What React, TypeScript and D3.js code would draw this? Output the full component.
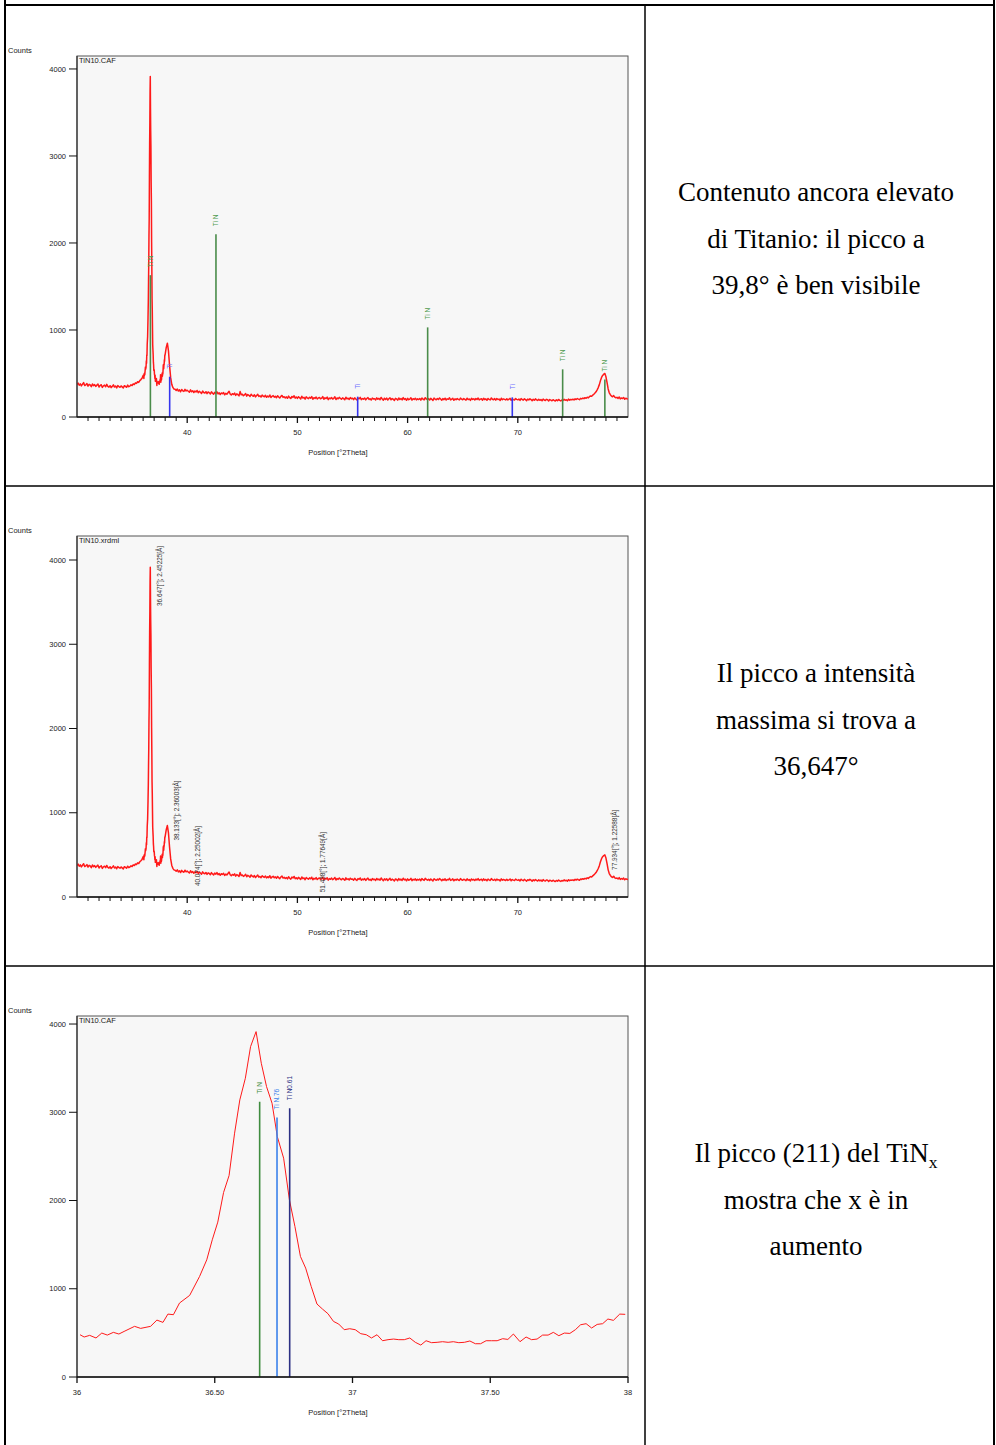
import React from 'react';
import * as d3 from 'd3';

const W = 996;
const H = 1445;

// XRD scan of TiN10, counts per 0.1 °2θ step, low-angle part (30.0 – 35.9)
const SCAN_STEP = 0.1;
const SCAN_LOW_START = 30.0;
const SCAN_LOW: number[] = [
  372, 390, 365, 381, 358, 377, 395, 362, 370, 384,
  355, 376, 368, 349, 380, 361, 372, 352, 366, 378,
  345, 362, 371, 340, 358, 366, 348, 375, 352, 343,
  360, 338, 352, 369, 344, 356, 335, 361, 350, 342,
  357, 346, 333, 360, 351, 341, 366, 348, 356, 370,
  362, 381, 373, 392, 386, 405, 398, 418, 430, 446,
];

// High-angle part of the same scan (38.1 – 80.0)
const SCAN_HIGH_START = 38.1;
const SCAN_HIGH: number[] = [
  800, 848, 760, 590, 452, 375, 340, 322, 318,
  305, 322, 298, 312, 290, 316, 301, 294, 318, 299,
  308, 296, 285, 312, 290, 302, 281, 298, 288, 305,
  279, 295, 284, 270, 298, 282, 276, 291, 268, 287,
  280, 265, 289, 274, 262, 283, 271, 290, 266, 278,
  258, 276, 268, 281, 255, 272, 262, 279, 296, 265,
  252, 268, 259, 274, 248, 266, 257, 243, 292, 256,
  261, 245, 254, 270, 240, 258, 249, 236, 262, 247,
  238, 255, 231, 247, 260, 236, 244, 229, 252, 240,
  233, 249, 226, 241, 230, 253, 224, 238, 246, 228,
  239, 222, 244, 230, 218, 237, 248, 225, 233, 219,
  231, 215, 240, 223, 212, 236, 226, 244, 217, 229,
  214, 233, 221, 208, 238, 218, 226, 205, 231, 220,
  211, 227, 216, 235, 204, 222, 213, 230, 207, 219,
  225, 209, 216, 234, 203, 221, 212, 228, 200, 218,
  210, 224, 206, 215, 232, 201, 219, 209, 226, 213,
  204, 220, 211, 198, 227, 208, 216, 202, 223, 210,
  215, 200, 221, 207, 196, 218, 209, 226, 199, 212,
  205, 219, 197, 213, 224, 201, 210, 195, 218, 206,
  211, 196, 220, 204, 214, 199, 225, 207, 193, 216,
  202, 217, 195, 209, 221, 198, 212, 204, 190, 214,
  208, 194, 218, 201, 212, 197, 223, 203, 211, 192,
  215, 199, 206, 221, 194, 210, 202, 216, 196, 209,
  201, 213, 193, 218, 205, 197, 222, 208, 199, 211,
  196, 214, 203, 190, 217, 206, 198, 212, 201, 219,
  207, 193, 211, 200, 216, 195, 209, 203, 221, 197,
  204, 215, 192, 208, 199, 213, 202, 196, 218, 205,
  198, 211, 203, 194, 216, 200, 207, 191, 214, 202,
  209, 195, 212, 201, 218, 197, 205, 210, 193, 215,
  200, 208, 192, 213, 203, 196, 219, 204, 198, 211,
  194, 212, 201, 206, 190, 215, 199, 208, 202, 196,
  210, 197, 204, 214, 192, 207, 200, 195, 212, 203,
  198, 206, 191, 211, 201, 194, 209, 199, 188, 205,
  196, 210, 200, 187, 204, 193, 208, 197, 190, 203,
  192, 201, 186, 206, 195, 189, 203, 198, 185, 200,
  194, 186, 199, 190, 183, 197, 188, 202, 191, 185,
  196, 189, 203, 192, 199, 187, 205, 194, 201, 198,
  204, 196, 209, 201, 212, 205, 199, 214, 208, 217,
  211, 222, 215, 228, 220, 234, 242, 238, 251, 262,
  275, 290, 312, 338, 372, 418, 455, 478, 492, 500,
  462, 395, 322, 278, 256, 240, 232, 246, 228, 221,
  226, 214, 230, 208, 219, 212, 225, 204, 216, 210,
  207,
];

// Fine scan around the TiN (111) reflection, [°2θ, counts]
const ZOOM_SCAN: [number, number][] = [
  [36.011, 479], [36.026, 453], [36.046, 472], [36.069, 442], [36.09, 498],
  [36.11, 475], [36.132, 506], [36.152, 487], [36.174, 521], [36.209, 574],
  [36.231, 551], [36.267, 574], [36.29, 645], [36.312, 619], [36.33, 713],
  [36.35, 706], [36.372, 838], [36.409, 925], [36.445, 1140], [36.471, 1328],
  [36.491, 1555], [36.511, 1755], [36.532, 2091], [36.552, 2283], [36.572, 2763],
  [36.591, 3140], [36.611, 3385], [36.63, 3744], [36.65, 3914], [36.669, 3555],
  [36.688, 3291], [36.708, 3102], [36.727, 2725], [36.75, 2480], [36.771, 2008],
  [36.791, 1706], [36.811, 1366], [36.83, 1234], [36.85, 1027], [36.871, 827],
  [36.891, 770], [36.911, 717], [36.931, 630], [36.95, 600], [36.97, 536],
  [36.99, 547], [37.01, 536], [37.03, 491], [37.05, 479], [37.069, 442],
  [37.089, 479], [37.109, 411], [37.129, 423], [37.149, 430], [37.168, 423],
  [37.188, 423], [37.208, 442], [37.228, 393], [37.248, 362], [37.267, 411],
  [37.287, 389], [37.307, 393], [37.327, 400], [37.347, 393], [37.366, 400],
  [37.386, 389], [37.406, 393], [37.426, 408], [37.446, 377], [37.465, 377],
  [37.485, 411], [37.505, 411], [37.525, 411], [37.545, 434], [37.564, 426],
  [37.584, 487], [37.608, 400], [37.63, 453], [37.65, 423], [37.67, 430],
  [37.69, 475], [37.71, 475], [37.729, 506], [37.749, 468], [37.769, 498],
  [37.789, 494], [37.809, 536], [37.828, 592], [37.848, 604], [37.868, 555],
  [37.888, 596], [37.908, 604], [37.927, 657], [37.947, 642], [37.97, 713],
  [37.99, 710],
];

// Reference patterns (stick positions and heights)
const TIN_ANGLES = [36.66, 42.61, 61.82, 74.07, 77.9];
const TIN_HEIGHTS = [1630, 2100, 1030, 548, 430];
const TI_ANGLES = [38.41, 55.47, 69.5];
const TI_HEIGHTS = [463, 234, 226];

// Peak search results: position and d-spacing
const PEAK_ANGLES = [36.647, 38.133, 40.074, 51.438, 77.934];
const PEAK_D = [2.45225, 2.36003, 2.25002, 1.77649, 1.22588];

// Sub-stoichiometric nitride references around 36.7°
const NITRIDE_LABELS = ['Ti N', 'Ti N.76', 'Ti N0.61'];
const NITRIDE_ANGLES = [36.663, 36.726, 36.772];
const NITRIDE_HEIGHTS = [3120, 2940, 3045];
const NITRIDE_COLORS = ['#3f8c3f', '#3b80ea', '#2c3184'];

const Y_TICKS = [0, 1000, 2000, 3000, 4000];
const X_MAJOR_FULL = [40, 50, 60, 70];
const X_MAJOR_ZOOM = [36, 36.5, 37, 37.5, 38];

// Notes in the right-hand column
const NOTES: string[][] = [
  ['Contenuto ancora elevato', 'di Titanio: il picco a', '39,8° è ben visibile'],
  ['Il picco a intensità', 'massima si trova a', '36,647°'],
  ['Il picco (211) del TiN_x', 'mostra che x è in', 'aumento'],
];

const SANS = "'Liberation Sans', Arial, sans-serif";
const SERIF = "'Liberation Serif', 'Times New Roman', serif";
const PLOT_LEFT = 77;
const PLOT_RIGHT = 628;
const PLOT_H = 361;
const ROW_TOPS = [5, 486, 966];

type Pt = [number, number];

const fullScan: Pt[] = [
  ...SCAN_LOW.map((c, i) => [SCAN_LOW_START + i * SCAN_STEP, c] as Pt),
  ...ZOOM_SCAN,
  ...SCAN_HIGH.map((c, i) => [SCAN_HIGH_START + i * SCAN_STEP, c] as Pt),
];

type Scales = { x: d3.ScaleLinear<number, number>; y: d3.ScaleLinear<number, number> };

function Plot(props: {
  id: string;
  top: number;
  yMax: number;
  xDomain: [number, number];
  xMajor: number[];
  xMinor: number[];
  fmt: (v: number) => string;
  title: string;
  data: Pt[];
  lineWidth: number;
  overlay: (s: Scales) => React.ReactNode;
}) {
  const { id, top, yMax, xDomain, xMajor, xMinor, fmt, title, data, lineWidth, overlay } = props;
  const bottom = top + PLOT_H;
  const x = d3.scaleLinear().domain(xDomain).range([PLOT_LEFT, PLOT_RIGHT]);
  const y = d3.scaleLinear().domain([0, yMax]).range([bottom, top]);
  const line = d3
    .line<Pt>()
    .x((d) => x(d[0]))
    .y((d) => y(d[1]));
  return (
    <g>
      <defs>
        <clipPath id={id}>
          <rect x={PLOT_LEFT} y={top} width={PLOT_RIGHT - PLOT_LEFT} height={PLOT_H} />
        </clipPath>
      </defs>
      <text x={8} y={top - 3} fontFamily={SANS} fontSize={7.5} fill="#222">
        Counts
      </text>
      <rect
        x={PLOT_LEFT}
        y={top}
        width={PLOT_RIGHT - PLOT_LEFT}
        height={PLOT_H}
        fill="#f7f7f7"
        stroke="#555"
        strokeWidth={1}
      />
      <text x={PLOT_LEFT + 2} y={top + 7} fontFamily={SANS} fontSize={7.5} fill="#222">
        {title}
      </text>
      <g clipPath={`url(#${id})`}>
        <path d={line(data) || ''} fill="none" stroke="#ff1a1a" strokeWidth={lineWidth} strokeLinejoin="round" />
        {overlay({ x, y })}
      </g>
      {/* y axis */}
      <line x1={PLOT_LEFT} x2={PLOT_LEFT} y1={top} y2={bottom} stroke="#333" strokeWidth={1.2} />
      {Y_TICKS.map((t) => (
        <g key={t}>
          <line x1={PLOT_LEFT - 8} x2={PLOT_LEFT} y1={y(t)} y2={y(t)} stroke="#111" strokeWidth={1} />
          <text
            x={PLOT_LEFT - 11}
            y={y(t) + 2.6}
            textAnchor="end"
            fontFamily={SANS}
            fontSize={7.5}
            fill="#222"
          >
            {t}
          </text>
        </g>
      ))}
      {/* x axis */}
      <line x1={PLOT_LEFT} x2={PLOT_RIGHT} y1={bottom} y2={bottom} stroke="#111" strokeWidth={1.6} />
      {xMinor.map((t) => (
        <line key={`m${t}`} x1={x(t)} x2={x(t)} y1={bottom} y2={bottom + 4} stroke="#111" strokeWidth={1} />
      ))}
      {xMajor.map((t) => (
        <g key={`M${t}`}>
          <line x1={x(t)} x2={x(t)} y1={bottom} y2={bottom + 6} stroke="#111" strokeWidth={1.3} />
          <text x={x(t)} y={bottom + 18} textAnchor="middle" fontFamily={SANS} fontSize={7.5} fill="#222">
            {fmt(t)}
          </text>
        </g>
      ))}
      <text x={338} y={bottom + 38} textAnchor="middle" fontFamily={SANS} fontSize={7.5} fill="#222">
        Position [°2Theta]
      </text>
    </g>
  );
}

function Sticks(props: {
  s: Scales;
  angles: number[];
  heights: number[];
  labels: string[];
  stroke: string;
  labelFill: string;
}) {
  const { s, angles, heights, labels, stroke, labelFill } = props;
  return (
    <g>
      {angles.map((a, i) => {
        const sx = s.x(a);
        const sy = s.y(heights[i]);
        return (
          <g key={a}>
            <line x1={sx} x2={sx} y1={s.y(0)} y2={sy} stroke={stroke} strokeWidth={1.6} />
            <text
              transform={`translate(${sx + 2.4},${sy - 8}) rotate(-90)`}
              fontFamily={SANS}
              fontSize={6.5}
              fill={labelFill}
            >
              {labels[i]}
            </text>
          </g>
        );
      })}
    </g>
  );
}

function PeakLabels({ s, top }: { s: Scales; top: number }) {
  const labelLen = 60;
  return (
    <g>
      {PEAK_ANGLES.map((a, i) => {
        const near = fullScan.filter((p) => Math.abs(p[0] - a) <= 0.15);
        const peak = d3.max(near, (p) => p[1]) ?? 0;
        const start = Math.max(s.y(peak) + 15, top + 10 + labelLen);
        const text = `${a.toFixed(3)}[°]; ${PEAK_D[i].toFixed(5)}[Å]`;
        return (
          <text
            key={a}
            transform={`translate(${s.x(a) + 12},${start}) rotate(-90)`}
            fontFamily={SANS}
            fontSize={6.4}
            fill="#333"
          >
            {text}
          </text>
        );
      })}
    </g>
  );
}

function NoteLine({ text, x, y }: { text: string; x: number; y: number }) {
  const parts = text.split('_');
  return (
    <text x={x} y={y} textAnchor="middle" fontFamily={SERIF} fontSize={27} fill="#000">
      {parts[0]}
      {parts.length > 1 && (
        <tspan fontSize={17.5} dy={6}>
          {parts[1]}
        </tspan>
      )}
    </text>
  );
}

export default function App() {
  const minorFull = d3.range(31, 80).filter((v) => !X_MAJOR_FULL.includes(v));
  const fmtFull = (v: number) => String(v);
  const fmtZoom = (v: number) => (Number.isInteger(v) ? String(v) : v.toFixed(2));
  const tinLabels = TIN_ANGLES.map(() => 'Ti N');
  const tiLabels = TI_ANGLES.map(() => 'Ti');

  return (
    <svg
      width={W}
      height={H}
      viewBox={`0 0 ${W} ${H}`}
      style={{ position: 'absolute', left: 0, top: 0, background: '#fff' }}
    >
      <rect x={0} y={0} width={W} height={H} fill="#fff" />

      {/* table grid */}
      <line x1={5} x2={5} y1={0} y2={H} stroke="#000" strokeWidth={2} />
      <line x1={994} x2={994} y1={0} y2={H} stroke="#000" strokeWidth={2} />
      <line x1={645} x2={645} y1={5} y2={H} stroke="#000" strokeWidth={1.5} />
      <line x1={5} x2={994} y1={5} y2={5} stroke="#000" strokeWidth={2} />
      <line x1={5} x2={994} y1={486} y2={486} stroke="#000" strokeWidth={1.5} />
      <line x1={5} x2={994} y1={966} y2={966} stroke="#000" strokeWidth={1.5} />

      <Plot
        id="clip-a"
        top={56}
        yMax={4149}
        xDomain={[30, 80]}
        xMajor={X_MAJOR_FULL}
        xMinor={minorFull}
        fmt={fmtFull}
        title="TiN10.CAF"
        data={fullScan}
        lineWidth={1.5}
        overlay={(s) => (
          <g>
            <Sticks s={s} angles={TIN_ANGLES} heights={TIN_HEIGHTS} labels={tinLabels} stroke="#4a8c4a" labelFill="#4f9a4f" />
            <Sticks s={s} angles={TI_ANGLES} heights={TI_HEIGHTS} labels={tiLabels} stroke="#3535ee" labelFill="#6b6bff" />
          </g>
        )}
      />

      <Plot
        id="clip-b"
        top={536}
        yMax={4285}
        xDomain={[30, 80]}
        xMajor={X_MAJOR_FULL}
        xMinor={minorFull}
        fmt={fmtFull}
        title="TiN10.xrdml"
        data={fullScan}
        lineWidth={1.5}
        overlay={(s) => <PeakLabels s={s} top={536} />}
      />

      <Plot
        id="clip-c"
        top={1016}
        yMax={4091}
        xDomain={[36, 38]}
        xMajor={X_MAJOR_ZOOM}
        xMinor={[]}
        fmt={fmtZoom}
        title="TiN10.CAF"
        data={ZOOM_SCAN}
        lineWidth={1}
        overlay={(s) => (
          <g>
            {NITRIDE_ANGLES.map((a, i) => (
              <Sticks
                key={a}
                s={s}
                angles={[a]}
                heights={[NITRIDE_HEIGHTS[i]]}
                labels={[NITRIDE_LABELS[i]]}
                stroke={NITRIDE_COLORS[i]}
                labelFill={NITRIDE_COLORS[i]}
              />
            ))}
          </g>
        )}
      />

      {NOTES.map((lines, r) =>
        lines.map((t, j) => (
          <NoteLine key={`${r}-${j}`} text={t} x={816} y={ROW_TOPS[r] + 196 + j * 46.5} />
        ))
      )}
    </svg>
  );
}
